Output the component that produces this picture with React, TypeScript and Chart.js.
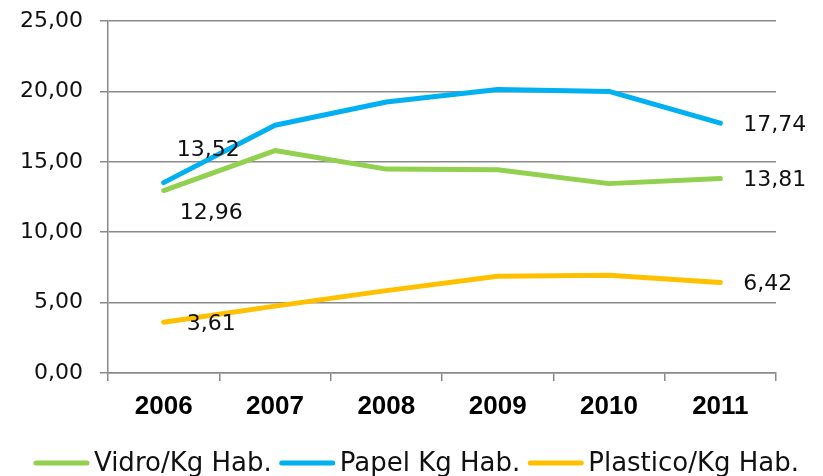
import React, { useEffect, useRef } from "react";
import { Chart, registerables } from "chart.js";

Chart.register(...registerables);

const categories = ["2006", "2007", "2008", "2009", "2010", "2011"];
const vidro = [12.96, 15.8, 14.48, 14.43, 13.45, 13.81];
const papel = [13.52, 17.6, 19.25, 20.13, 20.0, 17.74];
const plastico = [3.61, 4.75, 5.85, 6.87, 6.95, 6.42];
const seriesNames = ["Vidro/Kg Hab.", "Papel Kg Hab.", "Plastico/Kg Hab."];
const seriesColors = ["#92D050", "#00B0F0", "#FFC000"];
const yMin = 0;
const yMax = 25;
const yStep = 5;

// label placement for first point of each series (last point always "right")
const firstLabelPlacement = ["below", "above", "right"];

const fmt = (v: number) => v.toFixed(2).replace(".", ",");

const GRID = "#8a8a8a";
const FONT = "'DejaVu Sans', sans-serif";

const dataLabelPlugin = {
  id: "endLabels",
  afterDatasetsDraw(chart: any) {
    const ctx = chart.ctx;
    ctx.save();
    ctx.font = `22px ${FONT}`;
    ctx.fillStyle = "#111";
    ctx.textAlign = "left";
    ctx.textBaseline = "middle";
    chart.data.datasets.forEach((ds: any, i: number) => {
      const meta = chart.getDatasetMeta(i);
      const pts = meta.data;
      const idxs = [0, pts.length - 1];
      idxs.forEach((idx, k) => {
        const p = pts[idx];
        const placement = k === 0 ? firstLabelPlacement[i] : "right";
        let dx = 23, dy = 2;
        if (placement === "above") { dx = 13; dy = -32; }
        if (placement === "below") { dx = 16; dy = 23; }
        ctx.fillText(fmt(ds.data[idx]), p.x + dx, p.y + dy);
      });
    });
    ctx.restore();
  },
};

const legendPlugin = {
  id: "customLegend",
  afterDraw(chart: any) {
    const ctx = chart.ctx;
    ctx.save();
    ctx.font = `26px ${FONT}`;
    const lineW = 55, gap = 5, itemGap = 8;
    const widths = chart.data.datasets.map((ds: any) => ctx.measureText(ds.label).width);
    const total = widths.reduce((a: number, w: number) => a + lineW + gap + w, 0) + itemGap * (widths.length - 1);
    let x = (chart.width - total) / 2 + 5;
    const y = chart.height - 13;
    chart.data.datasets.forEach((ds: any, i: number) => {
      ctx.strokeStyle = ds.borderColor;
      ctx.lineWidth = 5;
      ctx.lineCap = "round";
      ctx.beginPath();
      ctx.moveTo(x + 2, y);
      ctx.lineTo(x + lineW - 2, y);
      ctx.stroke();
      ctx.fillStyle = "#111";
      ctx.textAlign = "left";
      ctx.textBaseline = "middle";
      ctx.fillText(ds.label, x + lineW + gap, y + 1);
      x += lineW + gap + widths[i] + itemGap;
    });
    ctx.restore();
  },
};

export default function App() {
  const ref = useRef<HTMLCanvasElement | null>(null);
  useEffect(() => {
    if (!ref.current) return;
    const series = [vidro, papel, plastico];
    const chart = new Chart(ref.current, {
      type: "line",
      data: {
        labels: categories,
        datasets: series.map((d, i) => ({
          label: seriesNames[i],
          data: d,
          borderColor: seriesColors[i],
          backgroundColor: seriesColors[i],
          borderWidth: 5,
          borderCapStyle: "round",
          borderJoinStyle: "round",
          pointRadius: 0,
          tension: 0,
        })),
      },
      options: {
        animation: false,
        responsive: true,
        maintainAspectRatio: false,
        layout: { padding: { left: 0, top: 21, right: 47, bottom: 43 } },
        plugins: {
          legend: { display: false },
          tooltip: { enabled: false },
        },
        scales: {
          x: {
            offset: true,
            grid: {
              offset: true,
              drawOnChartArea: false,
              drawTicks: true,
              tickLength: 8,
              color: GRID,
              lineWidth: 1.5,
            },
            border: { display: true, color: GRID, width: 1.5 },
            ticks: {
              font: { family: "'Liberation Sans', sans-serif", size: 26, weight: "bold" },
              color: "#000",
              padding: 10,
            },
            afterFit: (s: any) => { s.height = 60; },
          },
          y: {
            min: yMin,
            max: yMax,
            ticks: {
              stepSize: yStep,
              font: { family: FONT, size: 22 },
              color: "#111",
              padding: 17,
              callback: (v: any) => fmt(Number(v)),
            },
            grid: { color: GRID, lineWidth: 1.5, tickLength: 8 },
            border: { display: true, color: GRID, width: 1.5 },
            afterFit: (s: any) => {
              s.width = 108;
              s.paddingTop = 0;
              s.paddingBottom = 0;
            },
          },
        },
      },
      plugins: [dataLabelPlugin, legendPlugin],
    } as any);
    return () => chart.destroy();
  }, []);
  return (
    <div style={{ position: "fixed", left: 0, top: 0, width: 823, height: 476, background: "#fff" }}>
      <canvas ref={ref} />
    </div>
  );
}
